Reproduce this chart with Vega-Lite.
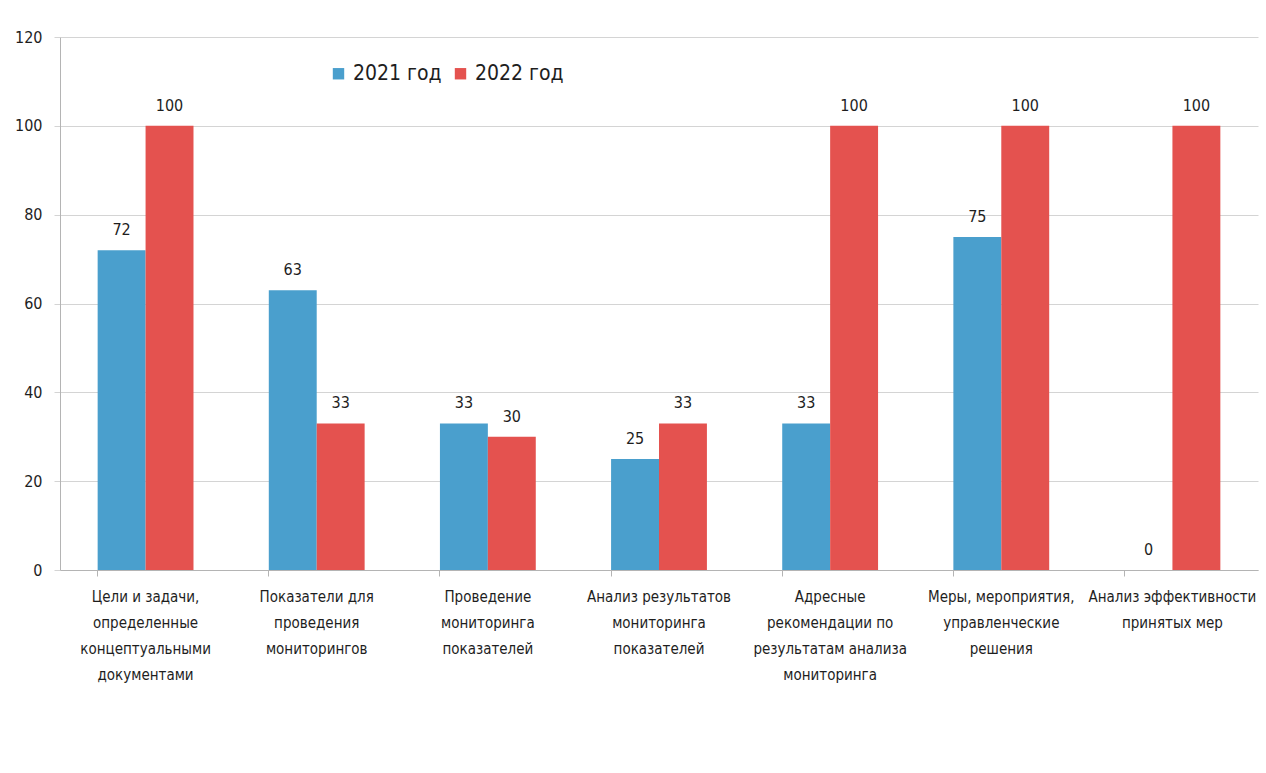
{
  "$schema": "https://vega.github.io/schema/vega-lite/v6.json",
  "width": 1198,
  "height": 533,
  "autosize": "none",
  "padding": {"left": 60, "top": 37, "right": 8, "bottom": 203},
  "background": "white",
  "config": {
    "view": {"stroke": null},
    "font": "DejaVu Sans Condensed, sans-serif"
  },
  "data": {
    "values": [
      {"cat": "Цели и задачи,|определенные|концептуальными|документами", "year": "2021 год", "value": 72},
      {"cat": "Цели и задачи,|определенные|концептуальными|документами", "year": "2022 год", "value": 100},
      {"cat": "Показатели для|проведения|мониторингов", "year": "2021 год", "value": 63},
      {"cat": "Показатели для|проведения|мониторингов", "year": "2022 год", "value": 33},
      {"cat": "Проведение|мониторинга|показателей", "year": "2021 год", "value": 33},
      {"cat": "Проведение|мониторинга|показателей", "year": "2022 год", "value": 30},
      {"cat": "Анализ результатов|мониторинга|показателей", "year": "2021 год", "value": 25},
      {"cat": "Анализ результатов|мониторинга|показателей", "year": "2022 год", "value": 33},
      {"cat": "Адресные|рекомендации по|результатам анализа|мониторинга", "year": "2021 год", "value": 33},
      {"cat": "Адресные|рекомендации по|результатам анализа|мониторинга", "year": "2022 год", "value": 100},
      {"cat": "Меры, мероприятия,|управленческие|решения", "year": "2021 год", "value": 75},
      {"cat": "Меры, мероприятия,|управленческие|решения", "year": "2022 год", "value": 100},
      {"cat": "Анализ эффективности|принятых мер", "year": "2021 год", "value": 0},
      {"cat": "Анализ эффективности|принятых мер", "year": "2022 год", "value": 100}
    ]
  },
  "encoding": {
    "xOffset": {"field": "year", "type": "nominal"},
    "y": {
      "field": "value",
      "type": "quantitative",
      "scale": {"domain": [0, 120]},
      "axis": {
        "title": null,
        "values": [0, 20, 40, 60, 80, 100, 120],
        "grid": true,
        "gridColor": "#d4d4d4",
        "domainColor": "#b4b4b4",
        "tickColor": "#d4d4d4",
        "tickSize": 6,
        "labelPadding": 12,
        "labelFontSize": 16,
        "labelColor": "#1e1e1e"
      }
    }
  },
  "layer": [
    {
      "mark": {"type": "bar"},
      "encoding": {
        "x": {
          "field": "cat",
          "type": "nominal",
          "sort": null,
          "scale": {"paddingInner": 0.44, "paddingOuter": 0.22},
          "axis": {
            "title": null,
            "orient": "bottom",
            "labelExpr": "split(datum.label, '|')",
            "labelAngle": 0,
            "labelLimit": 0,
            "labelFontSize": 15,
            "labelLineHeight": 26,
            "labelBaseline": "top",
            "labelPadding": 19,
            "labelColor": "#1e1e1e",
            "ticks": false,
            "domainColor": "#b4b4b4"
          }
        },
        "color": {
          "field": "year",
          "type": "nominal",
          "scale": {"domain": ["2021 год", "2022 год"], "range": ["#4a9fcd", "#e4524f"]},
          "legend": {
            "title": null,
            "orient": "none",
            "legendX": 268,
            "legendY": 26,
            "direction": "horizontal",
            "symbolType": "square",
            "symbolSize": 130,
            "symbolStrokeWidth": 0,
            "labelFontSize": 21,
            "labelColor": "#1e1e1e",
            "labelOffset": 4,
            "columnPadding": 8
          }
        }
      }
    },
    {
      "mark": {"type": "text", "baseline": "bottom", "dy": -12, "fontSize": 16, "color": "#1e1e1e"},
      "encoding": {
        "x": {
          "field": "cat",
          "type": "nominal",
          "sort": null,
          "axis": {
            "title": null,
            "orient": "bottom",
            "labels": false,
            "domain": false,
            "ticks": true,
            "tickSize": 6,
            "tickColor": "#b4b4b4",
            "bandPosition": 0
          }
        },
        "text": {"field": "value", "type": "quantitative"}
      }
    }
  ],
  "resolve": {"axis": {"x": "independent"}}
}
